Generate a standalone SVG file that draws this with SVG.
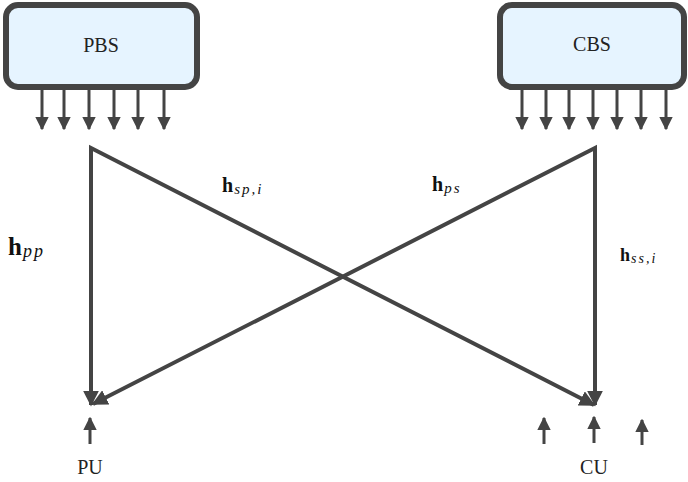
<svg xmlns="http://www.w3.org/2000/svg" width="688" height="482" viewBox="0 0 688 482">
<defs>
<style>
.box{fill:#e6f4ff;stroke:#444;stroke-width:6}
.lbl{font-family:"Liberation Serif",serif;font-size:20px;fill:#222;text-anchor:middle}
.ant{stroke:#444;stroke-width:3;fill:none}
.main{stroke:#444;stroke-width:4;fill:none}
.m{font-family:"Liberation Serif",serif;fill:#111}
.mb{font-weight:bold}
.ms{font-style:italic;letter-spacing:2px}
</style>
<marker id="ah" viewBox="0 0 10 10" refX="9" refY="5" markerWidth="4.6" markerHeight="4.6" markerUnits="strokeWidth" orient="auto">
<path d="M0,0 L10,5 L0,10 z" fill="#444"/>
</marker>
<marker id="am" viewBox="0 0 10 10" refX="9" refY="5" markerWidth="4" markerHeight="4" markerUnits="strokeWidth" orient="auto">
<path d="M0,0 L10,5 L0,10 z" fill="#444"/>
</marker>
</defs>
<g id="PBS">
<rect class="box" x="6" y="5" width="191" height="82" rx="12"/>
<text class="lbl" x="101" y="52">PBS</text>
</g>
<g id="CBS">
<rect class="box" x="500" y="5" width="184" height="82" rx="12"/>
<text class="lbl" x="592" y="51">CBS</text>
</g>
<g id="PU">
<text class="lbl" x="90" y="474">PU</text>
</g>
<g id="CU">
<text class="lbl" x="594" y="474">CU</text>
</g>
<g id="antennas">
<line class="ant" x1="42" y1="90" x2="42" y2="129" marker-end="url(#ah)"/>
<line class="ant" x1="64" y1="90" x2="64" y2="129" marker-end="url(#ah)"/>
<line class="ant" x1="89" y1="90" x2="89" y2="129" marker-end="url(#ah)"/>
<line class="ant" x1="114" y1="90" x2="114" y2="129" marker-end="url(#ah)"/>
<line class="ant" x1="138" y1="90" x2="138" y2="129" marker-end="url(#ah)"/>
<line class="ant" x1="164" y1="90" x2="164" y2="129" marker-end="url(#ah)"/>
<line class="ant" x1="522" y1="90" x2="522" y2="129" marker-end="url(#ah)"/>
<line class="ant" x1="546" y1="90" x2="546" y2="129" marker-end="url(#ah)"/>
<line class="ant" x1="569" y1="90" x2="569" y2="129" marker-end="url(#ah)"/>
<line class="ant" x1="593" y1="90" x2="593" y2="129" marker-end="url(#ah)"/>
<line class="ant" x1="617" y1="90" x2="617" y2="129" marker-end="url(#ah)"/>
<line class="ant" x1="641" y1="90" x2="641" y2="129" marker-end="url(#ah)"/>
<line class="ant" x1="666" y1="90" x2="666" y2="129" marker-end="url(#ah)"/>
<line class="ant" x1="90" y1="444" x2="90" y2="418" marker-end="url(#ah)"/>
<line class="ant" x1="544" y1="444" x2="544" y2="418" marker-end="url(#ah)"/>
<line class="ant" x1="594" y1="443" x2="594" y2="417" marker-end="url(#ah)"/>
<line class="ant" x1="642" y1="445" x2="642" y2="420" marker-end="url(#ah)"/>
</g>
<g id="connectors">
<polyline class="main" points="91,405 91,148 594,405" marker-end="url(#am)"/>
<line class="main" x1="91" y1="150" x2="91" y2="405" marker-end="url(#am)"/>
<polyline class="main" points="595,405 595,148 93,404" marker-end="url(#am)"/>
<line class="main" x1="595" y1="150" x2="595" y2="405" marker-end="url(#am)"/>
</g>
<g id="labels">
<text class="m" x="8" y="255"><tspan class="mb" font-size="25">h</tspan><tspan class="ms" font-size="18" dx="1" dy="2">pp</tspan></text>
<text class="m" x="222" y="192"><tspan class="mb" font-size="20">h</tspan><tspan class="ms" font-size="15" dx="1" dy="2">sp,i</tspan></text>
<text class="m" x="432" y="191"><tspan class="mb" font-size="20">h</tspan><tspan class="ms" font-size="15" dx="1" dy="2">ps</tspan></text>
<text class="m" x="620" y="261"><tspan class="mb" font-size="18">h</tspan><tspan class="ms" font-size="14" dx="1" dy="2">ss,i</tspan></text>
</g>
</svg>
